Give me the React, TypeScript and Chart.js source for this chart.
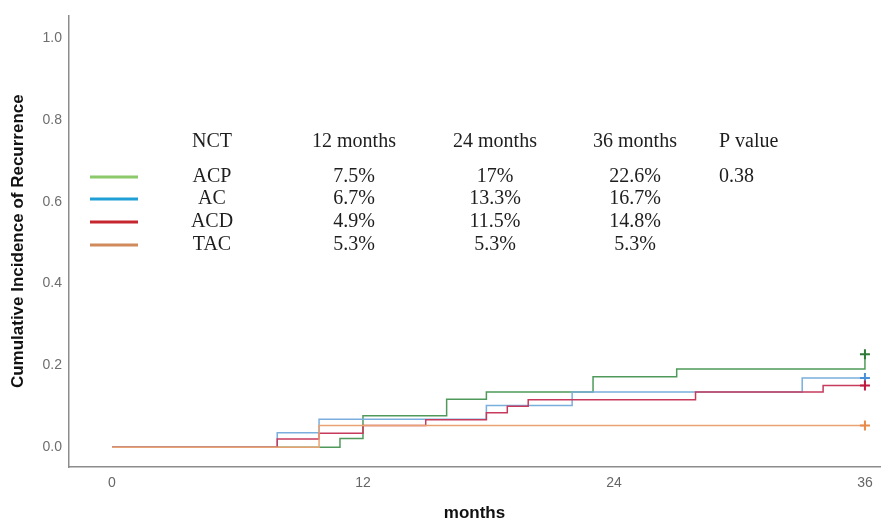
import React, { useEffect, useRef } from "react";
import { Chart, registerables } from "chart.js";

Chart.register(...registerables);

// ---- data ----
const groups = ["ACP", "AC", "ACD", "TAC"];
const tableHeaders = ["NCT", "12 months", "24 months", "36 months", "P value"];
const rate12 = ["7.5%", "6.7%", "4.9%", "5.3%"];
const rate24 = ["17%", "13.3%", "11.5%", "5.3%"];
const rate36 = ["22.6%", "16.7%", "14.8%", "5.3%"];
const pValues = ["0.38", "", "", ""];

const xTicks = [0, 12, 24, 36];
const yTicks = [0, 0.2, 0.4, 0.6, 0.8, 1.0];

const acpTimes = [0, 10.9, 12, 16, 17.9, 23, 27, 36, 36];
const acpValues = [0, 0.021, 0.077, 0.117, 0.135, 0.172, 0.191, 0.191, 0.227];
const acTimes = [0, 7.9, 9.9, 17.9, 22, 33, 36];
const acValues = [0, 0.035, 0.068, 0.102, 0.135, 0.169, 0.169];
const acdTimes = [0, 7.9, 9.9, 12, 15, 17.9, 18.9, 19.9, 27.9, 34, 36];
const acdValues = [0, 0.02, 0.034, 0.053, 0.067, 0.084, 0.1, 0.116, 0.135, 0.151, 0.151];
const tacTimes = [0, 9.9, 36];
const tacValues = [0, 0.053, 0.053];

const censorTime = 36;
const censorValues = [0.227, 0.169, 0.151, 0.053];

// ---- styles ----
const curveColors = ["#4f9a5a", "#7aaedc", "#c63a5c", "#e9a272"];
const markColors = ["#2f7a3a", "#4a90d9", "#c0183f", "#e88a4a"];
const legendColors = ["#8cc96b", "#1f9fd6", "#c6262e", "#d08a5c"];

const toPts = (t: number[], v: number[]) => t.map((x, i) => ({ x, y: v[i] }));

const SANS = '"Liberation Sans", Arial, sans-serif';
const SERIF = '"Liberation Serif", "Times New Roman", serif';

const tablePlugin = {
  id: "nctTable",
  afterDraw(chart: any) {
    const ctx = chart.ctx as CanvasRenderingContext2D;
    ctx.save();
    const colX = [212, 354, 495, 635, 719];
    const headerY = 142;
    const rowY = [177, 199, 222, 245];
    ctx.font = `20px ${SERIF}`;
    ctx.fillStyle = "#1e1e1e";
    ctx.textBaseline = "middle";
    tableHeaders.forEach((h, i) => {
      ctx.textAlign = i === 4 ? "left" : "center";
      ctx.fillText(h, colX[i], headerY);
    });
    groups.forEach((g, r) => {
      const cells = [g, rate12[r], rate24[r], rate36[r], pValues[r]];
      cells.forEach((c, i) => {
        if (!c) return;
        ctx.textAlign = i === 4 ? "left" : "center";
        ctx.fillText(c, colX[i], rowY[r]);
      });
      ctx.strokeStyle = legendColors[r];
      ctx.lineWidth = 3;
      ctx.beginPath();
      ctx.moveTo(90, rowY[r]);
      ctx.lineTo(138, rowY[r]);
      ctx.stroke();
    });
    ctx.restore();
  },
};

export default function App() {
  const ref = useRef<HTMLCanvasElement | null>(null);

  useEffect(() => {
    if (!ref.current) return;
    const series = [
      toPts(acpTimes, acpValues),
      toPts(acTimes, acValues),
      toPts(acdTimes, acdValues),
      toPts(tacTimes, tacValues),
    ];
    const lineSets = series.map((d, i) => ({
      type: "line" as const,
      label: groups[i],
      data: d,
      borderColor: curveColors[i],
      borderWidth: 1.5,
      pointRadius: 0,
      stepped: true,
      fill: false,
      order: 4 - i,
    }));
    const censorSet = {
      type: "scatter" as const,
      label: "censored",
      data: censorValues.map((v) => ({ x: censorTime, y: v })),
      pointStyle: "cross",
      pointRadius: 5,
      pointBorderWidth: 2,
      pointBorderColor: markColors,
      borderColor: markColors,
      showLine: false,
      order: 0,
    };
    const chart = new Chart(ref.current, {
      type: "line",
      data: { datasets: [...lineSets, censorSet] as any },
      plugins: [tablePlugin],
      options: {
        animation: false,
        responsive: false,
        devicePixelRatio: 1,
        layout: { padding: { top: 12, right: 13, left: 0, bottom: 0 } },
        plugins: { legend: { display: false }, tooltip: { enabled: false } },
        scales: {
          x: {
            type: "linear",
            min: -2.056,
            max: 36.72,
            afterBuildTicks: (s: any) => {
              s.ticks = xTicks.map((v) => ({ value: v }));
            },
            afterFit: (s: any) => {
              s.height = 59;
            },
            grid: { display: false, drawTicks: false },
            border: { display: true, color: "#8c8c8c", width: 1.5 },
            ticks: {
              color: "#666",
              font: { size: 14, family: SANS },
              padding: 8,
              maxRotation: 0,
            },
            title: {
              display: true,
              text: "months",
              color: "#111",
              font: { size: 17, weight: "bold", family: SANS },
              padding: { top: 0, bottom: 2 },
            },
          },
          y: {
            type: "linear",
            min: -0.0485,
            max: 1.056,
            afterBuildTicks: (s: any) => {
              s.ticks = yTicks.map((v) => ({ value: v }));
            },
            afterFit: (s: any) => {
              s.width = 69;
            },
            grid: { display: false, drawTicks: false },
            border: { display: true, color: "#8c8c8c", width: 1.5 },
            ticks: {
              color: "#6e6e6e",
              font: { size: 14, family: SANS },
              padding: 7,
              callback: (v: any) => Number(v).toFixed(1),
            },
            title: {
              display: true,
              text: "Cumulative Incidence of Recurrence",
              color: "#111",
              font: { size: 17, weight: "bold", family: SANS },
              padding: { top: 8, bottom: 0 },
            },
          },
        },
      } as any,
    });
    return () => chart.destroy();
  }, []);

  return (
    <div style={{ position: "absolute", left: 0, top: 0, width: 893, height: 526, background: "#fff" }}>
      <canvas ref={ref} width={893} height={526} style={{ display: "block" }} />
    </div>
  );
}
